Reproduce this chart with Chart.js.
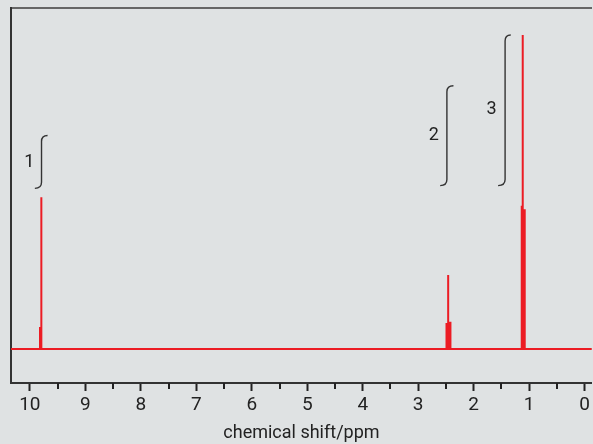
<!DOCTYPE html>
<html>
<head>
<meta charset="utf-8">
<script src="https://cdn.jsdelivr.net/npm/chart.js@4.4.1/dist/chart.umd.min.js"></script>
<style>
  body { margin: 0; background: #dfe2e3; }
  #wrap { width: 593px; height: 444px; }
</style>
</head>
<body>
<div id="wrap"><canvas id="nmr" width="593" height="444"></canvas></div>
<script>
// axis range and ticks (ppm, reversed axis)
var shiftMin = -0.13;
var shiftMax = 10.34;
var majorTicks = [10, 9, 8, 7, 6, 5, 4, 3, 2, 1, 0];
var minorTicks = [9.5, 8.5, 7.5, 6.5, 5.5, 4.5, 3.5, 2.5, 1.5, 0.5];

// spectrum lines: position (ppm) and height
var peakShift  = [9.817, 9.793, 2.490, 2.460, 2.437, 2.419, 1.134, 1.116, 1.094, 1.080];
var peakHeight = [6.4,   44.5,  7.6,   21.7,  8.0,   8.0,   42.0,  92.1,  41.0,  41.0];

// integration traces
var integralLabel = ['1', '2', '3'];
var integralStart = [9.910, 2.604, 1.560];
var integralStem  = [9.790, 2.483, 1.434];
var integralEnd   = [9.681, 2.365, 1.332];
var integralLow   = [47.1, 47.9, 47.9];
var integralHigh  = [62.6, 77.2, 92.1];
var labelShift    = [10.01, 2.72, 1.68];
var labelLevel    = [54.6, 62.5, 70.1];

// build the line from baseline + spikes
var spectrum = [{x: shiftMax, y: 0}];
for (var i = 0; i < peakShift.length; i++) {
    spectrum.push({x: peakShift[i], y: 0});
    spectrum.push({x: peakShift[i], y: peakHeight[i]});
    spectrum.push({x: peakShift[i], y: 0});
}
spectrum.push({x: shiftMin, y: 0});

var bgPlugin = {
    id: 'bg',
    beforeDraw: function(chart) {
        var ctx = chart.ctx;
        ctx.save();
        ctx.fillStyle = '#dfe2e3';
        ctx.fillRect(0, 0, chart.width, chart.height);
        ctx.restore();
    }
};

var extrasPlugin = {
    id: 'extras',
    afterDraw: function(chart) {
        var ctx = chart.ctx;
        var xs = chart.scales.x;
        var ys = chart.scales.y;
        var bottom = chart.chartArea.bottom;
        ctx.save();
        // minor ticks
        ctx.strokeStyle = '#222';
        ctx.lineWidth = 2;
        minorTicks.forEach(function(v) {
            var px = Math.round(xs.getPixelForValue(v));
            ctx.beginPath();
            ctx.moveTo(px, bottom);
            ctx.lineTo(px, bottom + 6);
            ctx.stroke();
        });
        // integral curves
        ctx.strokeStyle = '#333';
        ctx.lineWidth = 1.4;
        for (var i = 0; i < integralLabel.length; i++) {
            var x0 = xs.getPixelForValue(integralStart[i]);
            var xm = xs.getPixelForValue(integralStem[i]);
            var x1 = xs.getPixelForValue(integralEnd[i]);
            var yb = ys.getPixelForValue(integralLow[i]);
            var yt = ys.getPixelForValue(integralHigh[i]);
            ctx.beginPath();
            ctx.moveTo(x0, yb);
            ctx.quadraticCurveTo(xm, yb, xm, yb - 6);
            ctx.lineTo(xm, yt + 6);
            ctx.quadraticCurveTo(xm, yt, x1, yt);
            ctx.stroke();
        }
        // integral labels
        ctx.fillStyle = '#222';
        ctx.font = '18px Roboto';
        ctx.textAlign = 'center';
        ctx.textBaseline = 'middle';
        for (var j = 0; j < integralLabel.length; j++) {
            ctx.fillText(integralLabel[j], xs.getPixelForValue(labelShift[j]), ys.getPixelForValue(labelLevel[j]));
        }
        ctx.restore();
    }
};

var chart = new Chart(document.getElementById('nmr').getContext('2d'), {
    type: 'line',
    data: {
        datasets: [{
            data: spectrum,
            borderColor: '#ec1c24',
            borderWidth: 2,
            borderJoinStyle: 'bevel',
            pointRadius: 0,
            tension: 0,
            fill: false
        }]
    },
    options: {
        responsive: false,
        animation: false,
        layout: { padding: { left: 11, top: 8, right: 0, bottom: 0 } },
        plugins: { legend: { display: false }, tooltip: { enabled: false } },
        scales: {
            x: {
                type: 'linear',
                position: 'bottom',
                reverse: true,
                min: shiftMin,
                max: shiftMax,
                afterBuildTicks: function(scale) {
                    scale.ticks = majorTicks.map(function(v) { return {value: v}; });
                },
                ticks: {
                    color: '#222',
                    padding: 3,
                    maxRotation: 0,
                    autoSkip: false,
                    font: { family: 'Roboto', size: 19 }
                },
                grid: {
                    drawOnChartArea: false,
                    tickLength: 8,
                    tickWidth: 2,
                    tickColor: '#222'
                },
                border: { color: '#333', width: 2 },
                title: {
                    display: true,
                    text: 'chemical shift/ppm',
                    color: '#222',
                    font: { family: 'Roboto', size: 18 },
                    padding: { top: 2.6, bottom: 0 }
                }
            },
            xTop: {
                type: 'linear',
                position: 'top',
                min: shiftMin,
                max: shiftMax,
                ticks: { display: false },
                grid: { display: false, drawTicks: false },
                border: { color: '#666', width: 2 }
            },
            y: {
                type: 'linear',
                min: -10,
                max: 100,
                ticks: { display: false },
                grid: { display: false, drawTicks: false },
                border: { color: '#333', width: 2 }
            }
        }
    },
    plugins: [bgPlugin, extrasPlugin]
});
</script>
</body>
</html>
